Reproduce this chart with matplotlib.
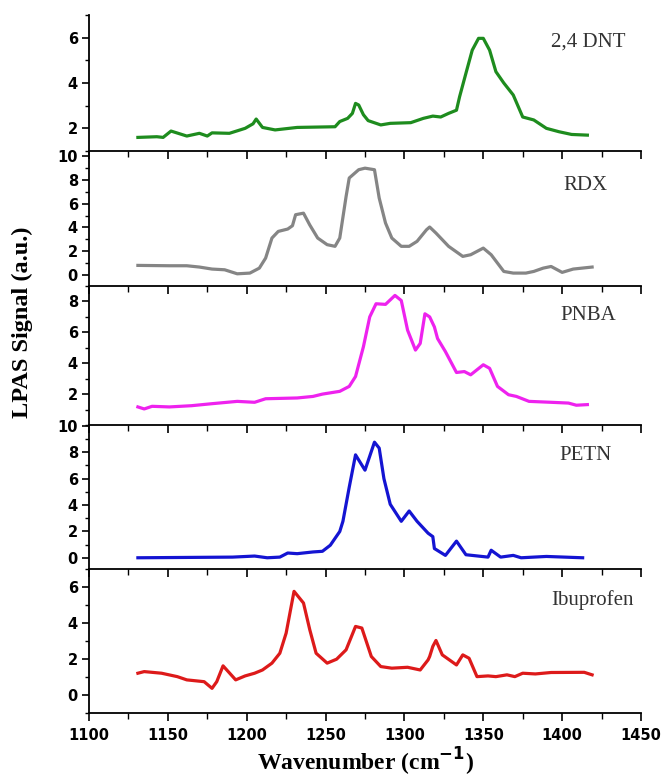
import matplotlib
matplotlib.use("Agg")
import matplotlib.pyplot as plt
from matplotlib.ticker import MultipleLocator

# ---------------- data ----------------
dnt_x = [1131, 1143, 1147, 1152, 1162, 1170, 1175, 1178, 1189, 1199, 1204, 1206, 1210, 1218, 1232,
         1256, 1259, 1264, 1267, 1269, 1271, 1274, 1277, 1285, 1291, 1304, 1312, 1318, 1323, 1328,
         1333, 1335, 1339, 1343, 1347, 1350, 1354, 1358, 1363, 1369, 1375, 1382, 1390, 1398, 1406, 1416]
dnt_y = [1.6, 1.63, 1.6, 1.88, 1.66, 1.78, 1.66, 1.8, 1.78, 2.0, 2.2, 2.41, 2.04, 1.93, 2.04,
         2.07, 2.3, 2.44, 2.66, 3.1, 3.03, 2.6, 2.34, 2.15, 2.22, 2.25, 2.44, 2.54, 2.5, 2.66,
         2.8, 3.4, 4.43, 5.45, 5.97, 5.97, 5.45, 4.5, 4.0, 3.47, 2.5, 2.37, 2.0, 1.85, 1.73, 1.7]

rdx_x = [1131, 1151, 1162, 1170, 1178, 1186, 1194, 1202, 1208, 1212, 1216, 1220, 1226, 1229, 1231,
         1236, 1240, 1245, 1251, 1256, 1259, 1263, 1265, 1271, 1275, 1281, 1284, 1288, 1292, 1298,
         1303, 1308, 1314, 1316, 1320, 1328, 1337, 1342, 1350, 1355, 1363, 1369, 1377, 1382, 1388,
         1393, 1400, 1407, 1419]
rdx_y = [0.79, 0.76, 0.76, 0.65, 0.48, 0.42, 0.08, 0.14, 0.56, 1.41, 3.1, 3.66, 3.86, 4.14, 5.07,
         5.2, 4.2, 3.1, 2.54, 2.4, 3.1, 6.6, 8.17, 8.87, 9.0, 8.87, 6.48, 4.37, 3.1, 2.4,
         2.4, 2.82, 3.8, 4.03, 3.52, 2.4, 1.55, 1.69, 2.25, 1.69, 0.28, 0.14, 0.14, 0.28, 0.56,
         0.7, 0.2, 0.48, 0.65]

pnba_x = [1131, 1135, 1140, 1151, 1165, 1178, 1194, 1205, 1212, 1232, 1242, 1248, 1259, 1265, 1269,
          1274, 1278, 1282, 1288, 1294, 1298, 1302, 1307, 1310, 1313, 1316, 1319, 1321, 1326, 1333,
          1338, 1342, 1350, 1354, 1359, 1366, 1371, 1379, 1393, 1404, 1409, 1416]
pnba_y = [1.17, 1.04, 1.21, 1.17, 1.25, 1.38, 1.53, 1.47, 1.7, 1.75, 1.85, 2.0, 2.18, 2.5, 3.14,
          5.07, 7.0, 7.85, 7.81, 8.39, 8.06, 6.14, 4.85, 5.28, 7.2, 7.0, 6.35, 5.6, 4.75, 3.4,
          3.46, 3.25, 3.9, 3.67, 2.5, 1.96, 1.85, 1.53, 1.47, 1.42, 1.28, 1.32]

petn_x = [1131, 1191, 1205, 1213, 1221, 1226, 1232, 1242, 1248, 1253, 1259, 1261, 1265, 1269, 1275,
          1281, 1284, 1287, 1291, 1298, 1303, 1308, 1315, 1318, 1319, 1326, 1333, 1339, 1353, 1355,
          1361, 1369, 1374, 1390, 1413]
petn_y = [0.0, 0.05, 0.13, 0.0, 0.05, 0.36, 0.31, 0.44, 0.49, 0.95, 1.99, 2.76, 5.34, 7.79, 6.63,
          8.75, 8.3, 5.99, 4.05, 2.76, 3.54, 2.76, 1.86, 1.6, 0.7, 0.18, 1.26, 0.23, 0.05, 0.57,
          0.05, 0.18, 0.0, 0.1, 0.0]

ibu_x = [1131, 1135, 1146, 1156, 1162, 1173, 1178, 1181, 1185, 1193, 1199, 1205, 1210, 1216, 1221,
         1225, 1230, 1236, 1240, 1244, 1251, 1257, 1263, 1269, 1273, 1279, 1285, 1292, 1302, 1310,
         1315, 1316, 1318, 1320, 1324, 1333, 1337, 1341, 1346, 1353, 1358, 1365, 1370, 1375, 1383,
         1393, 1414, 1419]
ibu_y = [1.21, 1.3, 1.21, 1.02, 0.84, 0.74, 0.37, 0.74, 1.62, 0.84, 1.06, 1.21, 1.39, 1.77, 2.32,
         3.44, 5.76, 5.11, 3.62, 2.32, 1.77, 1.99, 2.51, 3.81, 3.72, 2.14, 1.58, 1.49, 1.54, 1.39,
         1.95, 2.14, 2.7, 3.03, 2.23, 1.67, 2.23, 2.04, 1.02, 1.06, 1.02, 1.12, 1.02, 1.21, 1.17,
         1.25, 1.26, 1.12]

names = ["2,4 DNT", "RDX", "PNBA", "PETN", "Ibuprofen"]
xs = [dnt_x, rdx_x, pnba_x, petn_x, ibu_x]
ys = [dnt_y, rdx_y, pnba_y, petn_y, ibu_y]
colors = ["#1e8c1e", "#858585", "#ee22ee", "#1414d2", "#dd1a1a"]
ylims = [(1, 7), (-0.95, 10.45), (0, 9), (-0.85, 10.05), (-1, 7)]
yticks = [[2, 4, 6], [0, 2, 4, 6, 8, 10], [2, 4, 6, 8], [0, 2, 4, 6, 8, 10], [0, 2, 4, 6]]
xticks = [1100, 1150, 1200, 1250, 1300, 1350, 1400, 1450]

# layout (pixels)
W, H = 666, 778
left_px, right_px = 89, 641
bounds = [(15, 151), (151, 286), (286, 425), (425, 569), (569, 713)]
label_pos = [(588, 42), (585, 185), (588, 316), (585, 456), (592, 600)]

fig = plt.figure(figsize=(W / 100, H / 100), dpi=100)

for i in range(5):
    top, bot = bounds[i]
    ax = fig.add_axes([left_px / W, 1 - bot / H, (right_px - left_px) / W, (bot - top) / H])
    ax.plot(xs[i], ys[i], color=colors[i], lw=2.3, solid_joinstyle="round")
    ax.set_xlim(1100, 1450)
    ax.set_ylim(*ylims[i])
    ax.patch.set_alpha(0)
    for s in ["top", "right"]:
        ax.spines[s].set_visible(False)
    ax.spines["left"].set_linewidth(1.3)
    ax.spines["bottom"].set_linewidth(1.3)
    ax.set_yticks(yticks[i])
    ax.yaxis.set_minor_locator(MultipleLocator(1))
    ax.set_xticks(xticks)
    ax.xaxis.set_minor_locator(MultipleLocator(25))
    ax.tick_params(axis="y", which="major", direction="out", length=5, width=1.2, pad=3)
    ax.tick_params(axis="y", which="minor", direction="out", length=3, width=1.0)
    ax.tick_params(axis="x", which="major", direction="out", length=6, width=1.2, pad=5)
    ax.tick_params(axis="x", which="minor", direction="out", length=4, width=1.0)
    for lab in ax.get_yticklabels():
        lab.set_fontfamily("DejaVu Sans")
        lab.set_fontweight("bold")
        lab.set_fontsize(10.5)
    if i < 4:
        ax.set_xticklabels([])
    else:
        for lab in ax.get_xticklabels():
            lab.set_fontfamily("DejaVu Sans")
            lab.set_fontweight("bold")
            lab.set_fontsize(10.5)
    fig.text(label_pos[i][0] / W, 1 - label_pos[i][1] / H, names[i], ha="center", va="center",
             fontfamily="Liberation Serif", fontsize=15, color="#333333")

fig.text(365 / W, 1 - 762 / H, "Wavenumber (cm$^{\\mathbf{-1}}$)", ha="center", va="center",
         fontfamily="Liberation Serif", fontweight="bold", fontsize=17)
fig.text(22 / W, 1 - 322 / H, "LPAS Signal (a.u.)", rotation=90, ha="center", va="center",
         fontfamily="Liberation Serif", fontweight="bold", fontsize=17.5)

fig.savefig("out.png", dpi=100)
